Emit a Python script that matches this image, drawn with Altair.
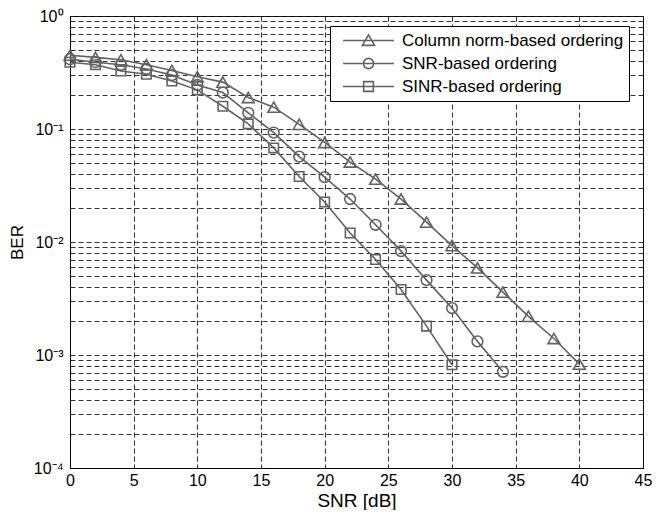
import altair as alt
import pandas as pd

series_names = ["Column norm-based ordering", "SNR-based ordering", "SINR-based ordering"]

snr_col = [0, 2, 4, 6, 8, 10, 12, 14, 16, 18, 20, 22, 24, 26, 28, 30, 32, 34, 36, 38, 40]
ber_col = [0.45, 0.43, 0.41, 0.37, 0.33, 0.29, 0.26, 0.19, 0.156, 0.110, 0.076,
           0.051, 0.036, 0.024, 0.015, 0.0093, 0.0059, 0.0036, 0.0022, 0.0014, 0.00083]

snr_snr = [0, 2, 4, 6, 8, 10, 12, 14, 16, 18, 20, 22, 24, 26, 28, 30, 32, 34]
ber_snr = [0.415, 0.39, 0.37, 0.34, 0.30, 0.245, 0.21, 0.139, 0.093, 0.057, 0.0375,
           0.024, 0.0142, 0.0083, 0.0046, 0.0026, 0.00132, 0.00071]

snr_sinr = [0, 2, 4, 6, 8, 10, 12, 14, 16, 18, 20, 22, 24, 26, 28, 30]
ber_sinr = [0.39, 0.37, 0.326, 0.305, 0.266, 0.222, 0.159, 0.111, 0.068, 0.038, 0.0226,
            0.012, 0.0070, 0.0038, 0.0018, 0.00082]

x_ticks = [0, 5, 10, 15, 20, 25, 30, 35, 40, 45]
y_decades = [-4, -3, -2, -1]
y_mantissas = [1, 2, 3, 4, 5, 6, 7, 8, 9]

rows = []
for name, xs, ys in zip(series_names, [snr_col, snr_snr, snr_sinr], [ber_col, ber_snr, ber_sinr]):
    for x, y in zip(xs, ys):
        rows.append({"series": name, "snr": x, "ber": y})
df = pd.DataFrame(rows)

y_grid = [m * 10.0 ** k for k in y_decades for m in y_mantissas] + [1.0]

GRAY = "#626262"
FONT = "Liberation Sans"

label_expr = (
    "abs(log(datum.value)/LN10 - round(log(datum.value)/LN10)) < 0.001 ? "
    "'10' + ['\u2070','\u207b\u00b9','\u207b\u00b2','\u207b\u00b3','\u207b\u2074'][-round(log(datum.value)/LN10)] : ''"
)

x_enc = alt.X(
    "snr:Q",
    scale=alt.Scale(domain=[0, 45], nice=False, zero=False),
    axis=alt.Axis(values=x_ticks, title="SNR [dB]", labelPadding=4, titlePadding=3,
                  titleFontSize=19, labelFlush=False),
)
y_enc = alt.Y(
    "ber:Q",
    scale=alt.Scale(type="log", domain=[1e-4, 1], nice=False),
    axis=alt.Axis(values=y_grid, labelExpr=label_expr, title="BER", labelOverlap=False,
                  labelPadding=7, titlePadding=7, titleFontSize=17),
)

legend_paths = [
    "M-1,0H1M0,-0.22L0.24,0.19L-0.24,0.19Z",
    "M-1,0H1M0.2,0A0.2,0.2,0,1,1,-0.2,0A0.2,0.2,0,1,1,0.2,0Z",
    "M-1,0H1M-0.19,-0.19H0.19V0.19H-0.19Z",
]

base = alt.Chart(df)

lines = base.mark_line(color=GRAY, strokeWidth=1.6).encode(
    x=x_enc, y=y_enc, detail="series:N"
)

points = base.mark_point(filled=False, color=GRAY, strokeWidth=1.6, opacity=1).encode(
    x=x_enc,
    y=y_enc,
    shape=alt.Shape("series:N",
                    scale=alt.Scale(domain=series_names, range=["triangle-up", "circle", "square"]),
                    legend=None),
    size=alt.Size("series:N", scale=alt.Scale(domain=series_names, range=[140, 90, 100]), legend=None),
)

legend_layer = base.transform_filter("false").mark_point(
    filled=False, color=GRAY, strokeWidth=1.6, opacity=1
).encode(
    x=x_enc,
    y=y_enc,
    shape=alt.Shape(
        "series:N",
        scale=alt.Scale(domain=series_names, range=legend_paths),
        legend=alt.Legend(
            title=None, orient="none", legendX=260, legendY=10,
            fillColor="white", strokeColor="black", padding=5, cornerRadius=0,
            symbolSize=2601, symbolStrokeColor=GRAY, symbolFillColor="transparent",
            symbolStrokeWidth=1.6, symbolOffset=7,
            labelFont=FONT, labelFontSize=17, labelColor="black", labelOffset=7,
            labelLimit=400, clipHeight=19, rowPadding=4,
        ),
    ),
)

chart = alt.layer(lines, points, legend_layer).resolve_scale(
    shape="independent", size="independent"
).properties(
    width=573, height=452, padding=0
).configure_view(
    stroke="black", strokeWidth=1
).configure_axis(
    domainColor="black", domainWidth=1,
    gridColor="#1a1a1a", gridDash=[5, 3], gridOpacity=1, gridWidth=0.9,
    ticks=False,
    labelFont=FONT, labelFontSize=16, labelColor="black",
    titleFont=FONT, titleFontWeight="normal", titleColor="black",
)

chart.save("out.html", embed_options={"renderer": "svg", "actions": False})
